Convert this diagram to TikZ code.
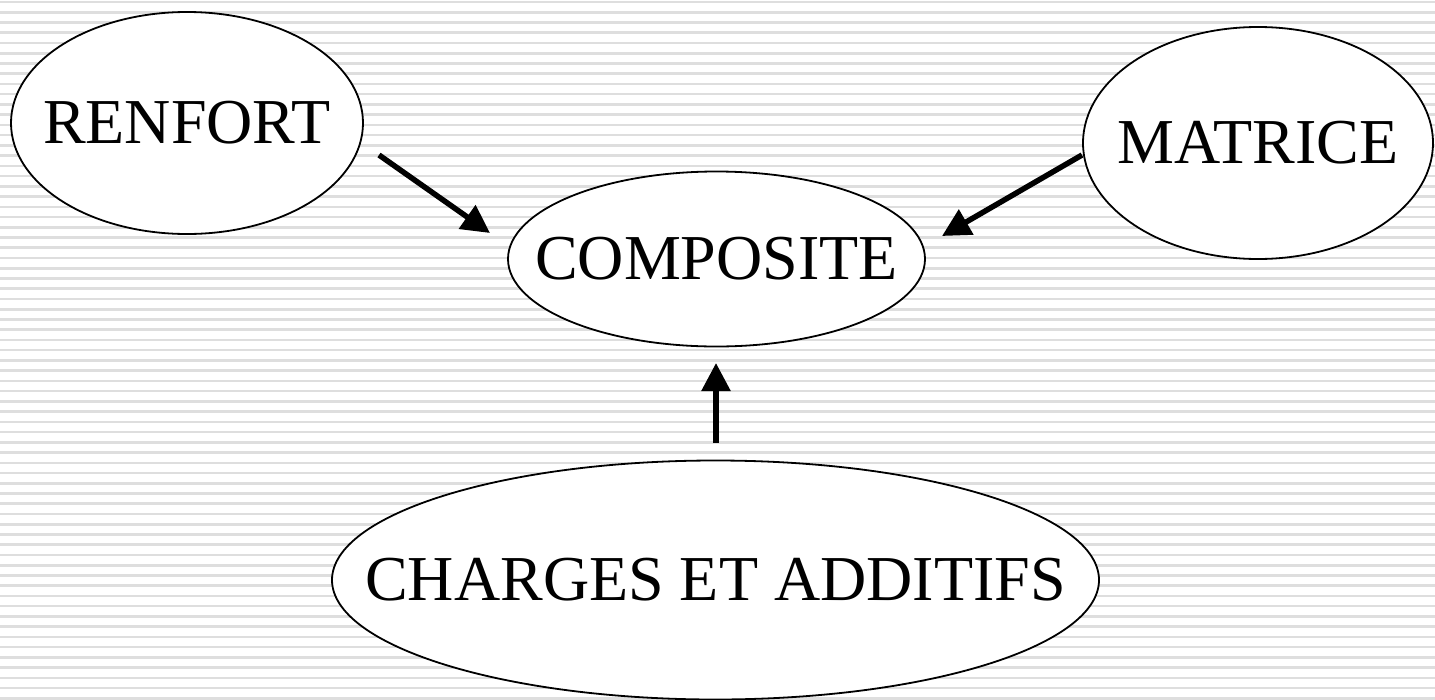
\documentclass[tikz,border=0pt]{standalone}
\usepackage{fontspec}
\setmainfont{Liberation Serif}
\usetikzlibrary{shapes.geometric,arrows.meta}

\tikzset{
  bgline/.style={draw=gray!26, line width=2.6pt},
  blob/.style={ellipse, draw=black, fill=white, line width=1.8pt, inner sep=0pt,
               font=\fontsize{64}{70}\selectfont},
  feed/.style={line width=5.5pt, -{Triangle[length=28pt,width=28pt]}}
}
% label set in a box of no width, so that the ellipse keeps its given size
\newcommand{\blobtext}[1]{\makebox[0pt]{#1}}

\begin{document}
\begin{tikzpicture}[x=1pt, y=-1pt]
  \useasboundingbox (0,0) rectangle (1435,699);
  \fill[white] (0,0) rectangle (1435,699);

  % ruled background
  \foreach \k in {0,...,68}
    \draw[bgline] (0,{2+10.24*\k}) -- (1435,{2+10.24*\k});

  % components
  \node[blob, minimum width=352pt, minimum height=222pt] (renfort)   at (187,123)   {\blobtext{RENFORT}};
  \node[blob, minimum width=350pt, minimum height=232pt] (matrice)   at (1258,143)  {\blobtext{MATRICE}};
  \node[blob, minimum width=417pt, minimum height=175pt] (composite) at (716.5,259) {\blobtext{COMPOSITE}};
  \node[blob, minimum width=767pt, minimum height=239pt] (charges)   at (715.5,580) {\blobtext{CHARGES ET ADDITIFS}};

  % arrow ends
  \coordinate (r0) at (379,155);
  \coordinate (r1) at (490,233);
  \coordinate (m0) at (1082,155);
  \coordinate (m1) at (942,236);
  \coordinate (c0) at (716,443);
  \coordinate (c1) at (716,363);

  \draw[feed] (r0) -- (r1);
  \draw[feed] (m0) -- (m1);
  \draw[feed] (c0) -- (c1);
\end{tikzpicture}
\end{document}
